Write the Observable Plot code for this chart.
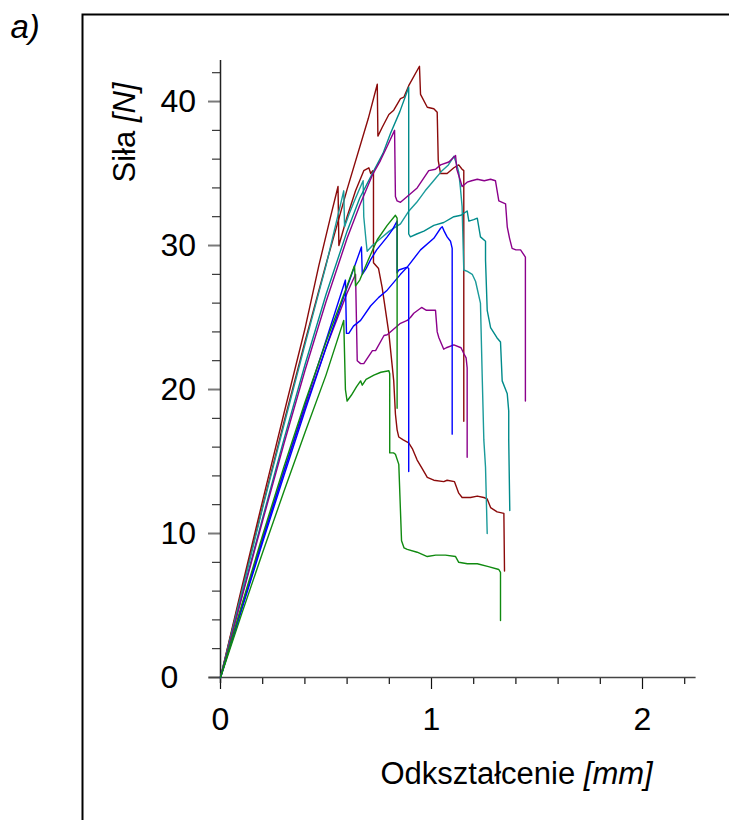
<!DOCTYPE html>
<html><head><meta charset="utf-8">
<script src="https://cdn.jsdelivr.net/npm/d3@7"></script>
<script src="https://cdn.jsdelivr.net/npm/@observablehq/plot@0.6"></script>
<style>html,body{margin:0;padding:0;background:#fff;overflow:hidden}</style>
</head><body><div id="chart"></div>
<script>
// ---- data: [deformation mm, force N] ----
const redA = [[0,0],[0.1,6.0],[0.2,11.9],[0.3,17.7],[0.4,23.3],[0.5,28.7],[0.6,33.9],[0.7,38.8],[0.743,41.2],[0.746,37.6],[0.766,38.2],[0.798,39.1],[0.821,39.4],[0.853,40.2],[0.869,40.3],[0.892,41.1],[0.943,42.45],[0.948,40.5],[0.98,39.6],[1.011,39.5],[1.027,39.25],[1.032,35.9],[1.043,35.0],[1.074,35.0],[1.106,35.4],[1.129,35.6],[1.145,35.3],[1.153,35.2],[1.153,17.8]];
const redB = [[0,0],[0.1,6.2],[0.2,12.3],[0.3,18.3],[0.4,24.2],[0.466,28.6],[0.52,31.9],[0.557,34.1],[0.561,30.0],[0.6,32.0],[0.64,33.8],[0.679,35.2],[0.703,35.4],[0.712,35.0],[0.722,35.2],[0.725,35.1],[0.725,28.8],[0.749,28.4],[0.766,27.1],[0.782,25.5],[0.798,23.9],[0.821,20.6],[0.829,18.3],[0.837,17.2],[0.845,16.7],[0.866,16.5],[0.892,16.3],[0.909,15.9],[0.932,15.1],[0.956,14.5],[0.98,13.9],[1.011,13.7],[1.058,13.6],[1.074,13.7],[1.109,13.6],[1.129,12.8],[1.145,12.5],[1.185,12.5],[1.217,12.6],[1.248,12.5],[1.264,12.4],[1.28,11.8],[1.311,11.5],[1.343,11.4],[1.346,7.4]];
const tealA = [[0,0],[0.1,5.9],[0.2,11.8],[0.3,17.5],[0.4,23.1],[0.5,28.6],[0.584,33.8],[0.588,31.3],[0.61,32.2],[0.632,33.0],[0.655,33.8],[0.676,34.5],[0.679,32.0],[0.69,30.3],[0.695,29.6],[0.72,30.0],[0.76,30.5],[0.8,31.0],[0.853,31.5],[0.893,32.4],[0.93,33.0],[0.97,33.8],[1.01,34.5],[1.05,35.2],[1.08,35.6],[1.106,36.2],[1.12,35.6],[1.129,35.1],[1.137,34.0],[1.145,32.7],[1.153,28.3],[1.17,28.2],[1.193,28.0],[1.209,27.5],[1.232,26.0],[1.24,21.1],[1.248,16.5],[1.256,14.6],[1.264,10.0]];
const tealB = [[0,0],[0.1,5.6],[0.2,11.1],[0.3,16.5],[0.4,21.7],[0.5,26.6],[0.6,31.0],[0.66,33.3],[0.727,35.2],[0.77,36.4],[0.806,37.8],[0.85,39.3],[0.892,41.0],[0.892,30.8],[0.9,30.6],[0.93,30.8],[0.964,31.0],[1.011,31.4],[1.058,31.6],[1.106,32.0],[1.14,32.1],[1.169,32.4],[1.177,31.7],[1.2,31.8],[1.217,31.9],[1.232,30.6],[1.256,30.3],[1.256,29.0],[1.264,25.5],[1.28,24.3],[1.31,23.6],[1.327,23.3],[1.335,20.6],[1.359,19.7],[1.366,18.5],[1.366,16.5],[1.371,11.6]];
const purpleA = [[0,0],[0.1,5.5],[0.2,10.9],[0.3,16.2],[0.4,21.3],[0.5,26.1],[0.6,30.5],[0.66,32.8],[0.72,34.9],[0.758,35.9],[0.79,36.9],[0.825,38.0],[0.829,33.4],[0.837,33.1],[0.853,33.0],[0.885,33.4],[0.932,34.0],[0.987,35.2],[1.019,35.3],[1.043,35.6],[1.082,35.8],[1.114,36.25],[1.12,35.3],[1.137,34.5],[1.145,34.1],[1.169,34.4],[1.19,34.5],[1.217,34.6],[1.25,34.5],[1.28,34.6],[1.303,34.5],[1.319,33.1],[1.335,33.0],[1.351,32.9],[1.359,31.3],[1.37,30.5],[1.382,29.8],[1.4,29.7],[1.422,29.7],[1.445,29.2],[1.445,19.2]];
const purpleB = [[0,0],[0.1,4.9],[0.2,9.7],[0.3,14.3],[0.4,18.7],[0.5,22.9],[0.6,26.7],[0.64,28.0],[0.648,22.0],[0.664,21.8],[0.679,21.8],[0.72,22.7],[0.735,22.7],[0.775,23.75],[0.79,23.8],[0.853,24.6],[0.885,24.8],[0.9,25.0],[0.916,25.3],[0.953,25.7],[0.976,25.5],[1.0,25.5],[1.019,25.5],[1.027,24.0],[1.035,23.6],[1.058,22.8],[1.07,22.9],[1.106,23.1],[1.14,22.9],[1.153,22.5],[1.164,22.2],[1.169,21.5],[1.169,15.3]];
const blueA = [[0,0],[0.1,4.7],[0.2,9.4],[0.3,14.0],[0.4,18.5],[0.5,22.9],[0.6,27.1],[0.668,29.9],[0.672,28.0],[0.69,28.4],[0.711,29.0],[0.74,29.7],[0.79,30.6],[0.815,31.1],[0.837,31.7],[0.837,28.1],[0.845,28.3],[0.885,28.5],[0.892,28.4],[0.892,14.3]];
const blueB = [[0,0],[0.1,4.8],[0.2,9.6],[0.3,14.3],[0.4,18.9],[0.5,23.4],[0.592,27.6],[0.597,23.9],[0.608,23.9],[0.63,24.4],[0.664,24.8],[0.711,25.8],[0.75,26.4],[0.79,26.9],[0.853,28.0],[0.885,28.5],[0.948,29.7],[1.011,30.5],[1.043,31.2],[1.051,31.3],[1.06,31.0],[1.074,30.6],[1.09,30.3],[1.098,29.8],[1.098,16.9]];
const greenA = [[0,0],[0.1,4.4],[0.2,8.7],[0.3,12.9],[0.4,17.0],[0.5,21.0],[0.584,24.8],[0.592,20.0],[0.6,19.2],[0.62,19.6],[0.645,20.2],[0.664,20.6],[0.672,20.3],[0.69,20.7],[0.727,21.0],[0.76,21.2],[0.798,21.3],[0.802,21.1],[0.802,15.6],[0.82,15.6],[0.829,15.5],[0.845,14.8],[0.858,9.5],[0.87,9.0],[0.885,8.9],[0.932,8.7],[0.98,8.4],[1.02,8.5],[1.066,8.5],[1.114,8.4],[1.129,8.0],[1.17,7.9],[1.217,7.9],[1.27,7.7],[1.319,7.5],[1.327,7.3],[1.327,3.96]];
const greenB = [[0,0],[0.1,5.0],[0.2,9.9],[0.3,14.6],[0.4,19.1],[0.5,23.3],[0.6,27.2],[0.635,28.6],[0.64,27.2],[0.66,27.6],[0.7,29.0],[0.743,30.4],[0.79,31.4],[0.829,32.1],[0.837,31.9],[0.837,18.7]];

const seriesNames = ["redA","redB","tealA","tealB","purpleA","purpleB","blueA","blueB","greenA","greenB"];
const seriesData = [redA,redB,tealA,tealB,purpleA,purpleB,blueA,blueB,greenA,greenB];
const seriesColors = ["#8b0a0a","#8b0a0a","#1a9a9a","#008b8b","#8b008b","#8b008b","#0000ff","#0000ff","#108a10","#108a10"];

const xMajor = [0,1,2];
const xMinor = [0.2,0.4,0.6,0.8,1.2,1.4,1.6,1.8,2.2];
const yMajor = [0,10,20,30,40];
const yMinor = [2,4,6,8,12,14,16,18,22,24,26,28,32,34,36,38,42];
const xTitle = "Odkształcenie [mm]";
const yTitle = "Siła [N]";
const panelLabel = "a)";

const rows = seriesData.flatMap((pts, i) => pts.map(([x, y]) => ({x, y, s: seriesNames[i]})));

const svg = Plot.plot({
  width: 729, height: 820,
  marginLeft: 220, marginRight: 33.4, marginTop: 60, marginBottom: 143,
  x: {domain: [0, 2.254], axis: null},
  y: {domain: [0, 42.85], axis: null},
  color: {domain: seriesNames, range: seriesColors},
  style: {fontFamily: "'Liberation Sans', Arial, sans-serif", background: "white", color: "black"},
  marks: [
    Plot.frame({insetLeft: -138, insetTop: -46, insetRight: -80, insetBottom: -220, stroke: "black", strokeWidth: 2}),
    Plot.axisY(yMajor, {anchor: "left", tickSize: 12, tickFormat: () => "", label: null, stroke: "#7a7a7a", strokeWidth: 2}),
    Plot.axisY(yMinor, {anchor: "left", tickSize: 8, tickFormat: () => "", label: null, stroke: "#111", strokeWidth: 1}),
    Plot.axisX(xMajor, {anchor: "bottom", tickSize: 12, tickFormat: () => "", label: null, stroke: "#111", strokeWidth: 1.2}),
    Plot.axisX(xMinor, {anchor: "bottom", tickSize: 7, tickFormat: () => "", label: null, stroke: "#111", strokeWidth: 1.2}),
    Plot.ruleX([0], {y1: -0.42, y2: 42.85, stroke: "#222", strokeWidth: 1.5}),
    Plot.ruleY([0], {x1: -0.052, x2: 2.254, stroke: "#444", strokeWidth: 1.5}),
    Plot.text(yMajor, {y: d => d, text: d => `${d}`, frameAnchor: "left", textAnchor: "start", dx: -60, fontSize: 32}),
    Plot.text(xMajor, {x: d => d, text: d => `${d}`, frameAnchor: "bottom", lineAnchor: "top", dy: 30, fontSize: 32}),
    Plot.line(rows, {x: "x", y: "y", z: "s", stroke: "s", strokeWidth: 1.4, curve: "linear"}),
    Plot.text([yTitle], {text: d => d, frameAnchor: "top-left", rotate: -90, textAnchor: "middle", lineAnchor: "bottom", dx: -86, dy: 72, fontSize: 31}),
    Plot.text([xTitle], {text: d => d, frameAnchor: "bottom-left", textAnchor: "start", lineAnchor: "bottom", dx: 160, dy: 106, fontSize: 31}),
    Plot.text([panelLabel], {text: d => d, frameAnchor: "top-left", textAnchor: "start", lineAnchor: "bottom", dx: -210, dy: -23, fontSize: 33, fontStyle: "italic"})
  ]
});

// italic unit parts
d3.select(svg).selectAll("text").each(function() {
  const t = this.textContent;
  const m = t === xTitle || t === yTitle ? t.match(/^(.*?)(\[.*\])$/) : null;
  if (m) {
    this.textContent = "";
    const ns = "http://www.w3.org/2000/svg";
    const a = document.createElementNS(ns, "tspan"); a.textContent = m[1];
    const b = document.createElementNS(ns, "tspan"); b.textContent = m[2]; b.setAttribute("font-style", "italic");
    this.appendChild(a); this.appendChild(b);
  }
});
document.getElementById("chart").appendChild(svg);
</script>
</body></html>
